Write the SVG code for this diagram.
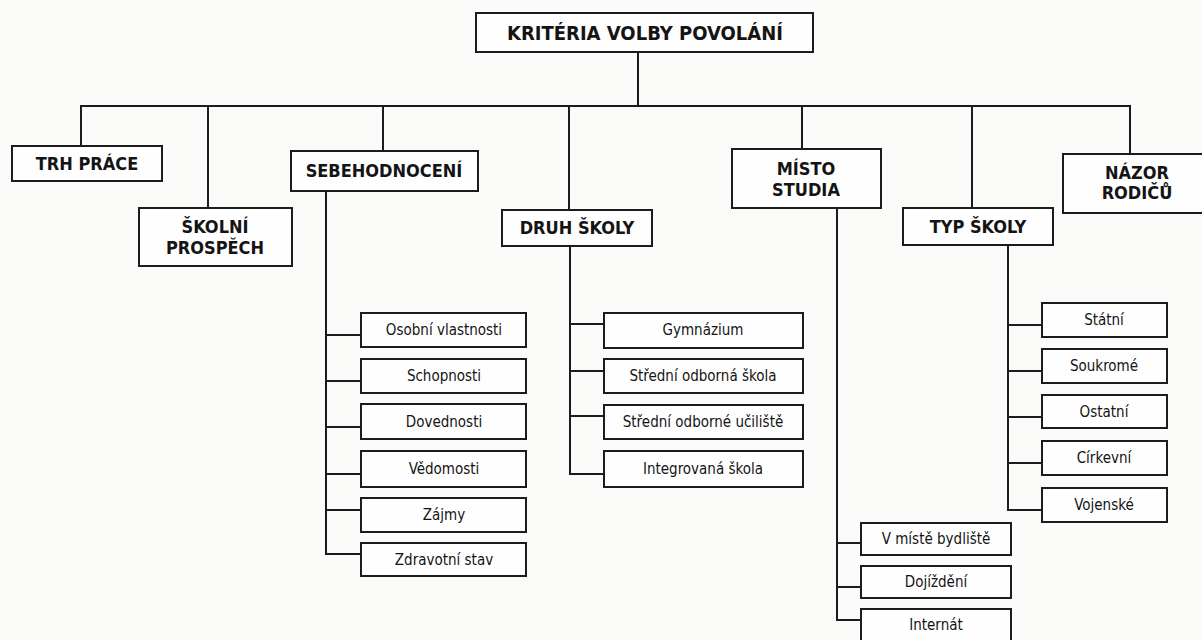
<svg xmlns="http://www.w3.org/2000/svg" width="1202" height="640" viewBox="0 0 1202 640">
<style>
.bg{fill:#fbfbfa}
.box{fill:#fefefe;stroke:#1c1c1c;stroke-width:2}
.conn{fill:none;stroke:#1c1c1c;stroke-width:2;stroke-linejoin:miter;stroke-linecap:square}
.h{font-family:"DejaVu Sans Condensed","DejaVu Sans",sans-serif;font-weight:bold;font-size:18px;fill:#141414;text-anchor:middle}
.r{font-family:"DejaVu Sans Condensed","DejaVu Sans",sans-serif;font-size:15px;fill:#141414;text-anchor:middle}
.root{font-size:20px}
</style>
<rect class="bg" x="0" y="0" width="1202" height="640"/>
<g id="connectors">
<path class="conn" d="M638 52V106M81 106H1130M81 106V146M208 106V208M383 106V151M569 106V210M802 106V149M972 106V208M1130 106V154"/>
<path class="conn" d="M326 191V554H361M326 335H361M326 381H361M326 427H361M326 474H361M326 510H361"/>
<path class="conn" d="M570 246V474H604M570 324H604M570 371H604M570 416H604"/>
<path class="conn" d="M837 208V620H861M837 543H861M837 587H861"/>
<path class="conn" d="M1008 245V510H1042M1008 325H1042M1008 371H1042M1008 417H1042M1008 463H1042"/>
</g>
<g id="root"><rect class="box" x="476" y="13" width="337" height="39"/><text class="h root" x="645" y="40">KRITÉRIA VOLBY POVOLÁNÍ</text></g>
<g id="trh-prace"><rect class="box" x="12" y="146" width="150" height="35"/><text class="h" x="87" y="170">TRH PRÁCE</text></g>
<g id="skolni-prospech"><rect class="box" x="139" y="208" width="153" height="58"/><text class="h" x="215" y="233">ŠKOLNÍ</text><text class="h" x="215" y="254">PROSPĚCH</text></g>
<g id="sebehodnoceni"><rect class="box" x="291" y="151" width="187" height="40"/><text class="h" x="384" y="177">SEBEHODNOCENÍ</text></g>
<g id="druh-skoly"><rect class="box" x="502" y="210" width="150" height="36"/><text class="h" x="577" y="234">DRUH ŠKOLY</text></g>
<g id="misto-studia"><rect class="box" x="732" y="149" width="149" height="59"/><text class="h" x="806" y="175">MÍSTO</text><text class="h" x="806" y="196">STUDIA</text></g>
<g id="typ-skoly"><rect class="box" x="903" y="208" width="150" height="37"/><text class="h" x="978" y="233">TYP ŠKOLY</text></g>
<g id="nazor-rodicu"><rect class="box" x="1063" y="154" width="140" height="59"/><text class="h" x="1137" y="179">NÁZOR</text><text class="h" x="1137" y="199">RODIČŮ</text></g>
<g id="osobni-vlastnosti"><rect class="box" x="361" y="313" width="165" height="34"/><text class="r" x="444" y="335">Osobní vlastnosti</text></g>
<g id="schopnosti"><rect class="box" x="361" y="359" width="165" height="34"/><text class="r" x="444" y="381">Schopnosti</text></g>
<g id="dovednosti"><rect class="box" x="361" y="404" width="165" height="35"/><text class="r" x="444" y="427">Dovednosti</text></g>
<g id="vedomosti"><rect class="box" x="361" y="451" width="165" height="36"/><text class="r" x="444" y="474">Vědomosti</text></g>
<g id="zajmy"><rect class="box" x="361" y="498" width="165" height="34"/><text class="r" x="444" y="520">Zájmy</text></g>
<g id="zdravotni-stav"><rect class="box" x="361" y="543" width="165" height="33"/><text class="r" x="444" y="565">Zdravotní stav</text></g>
<g id="gymnazium"><rect class="box" x="604" y="313" width="199" height="35"/><text class="r" x="703" y="335">Gymnázium</text></g>
<g id="stredni-odborna-skola"><rect class="box" x="604" y="359" width="199" height="34"/><text class="r" x="703" y="381">Střední odborná škola</text></g>
<g id="stredni-odborne-uciliste"><rect class="box" x="604" y="405" width="199" height="34"/><text class="r" x="703" y="427">Střední odborné učiliště</text></g>
<g id="integrovana-skola"><rect class="box" x="604" y="451" width="199" height="36"/><text class="r" x="703" y="474">Integrovaná škola</text></g>
<g id="v-miste-bydliste"><rect class="box" x="861" y="523" width="150" height="32"/><text class="r" x="936" y="544">V místě bydliště</text></g>
<g id="dojizdeni"><rect class="box" x="861" y="566" width="150" height="32"/><text class="r" x="936" y="587">Dojíždění</text></g>
<g id="internat"><rect class="box" x="861" y="609" width="150" height="40"/><text class="r" x="936" y="630">Internát</text></g>
<g id="statni"><rect class="box" x="1042" y="303" width="125" height="34"/><text class="r" x="1104" y="325">Státní</text></g>
<g id="soukrome"><rect class="box" x="1042" y="349" width="125" height="34"/><text class="r" x="1104" y="371">Soukromé</text></g>
<g id="ostatni"><rect class="box" x="1042" y="395" width="125" height="33"/><text class="r" x="1104" y="417">Ostatní</text></g>
<g id="cirkevni"><rect class="box" x="1042" y="441" width="125" height="34"/><text class="r" x="1104" y="463">Církevní</text></g>
<g id="vojenske"><rect class="box" x="1042" y="488" width="125" height="34"/><text class="r" x="1104" y="510">Vojenské</text></g>
</svg>
